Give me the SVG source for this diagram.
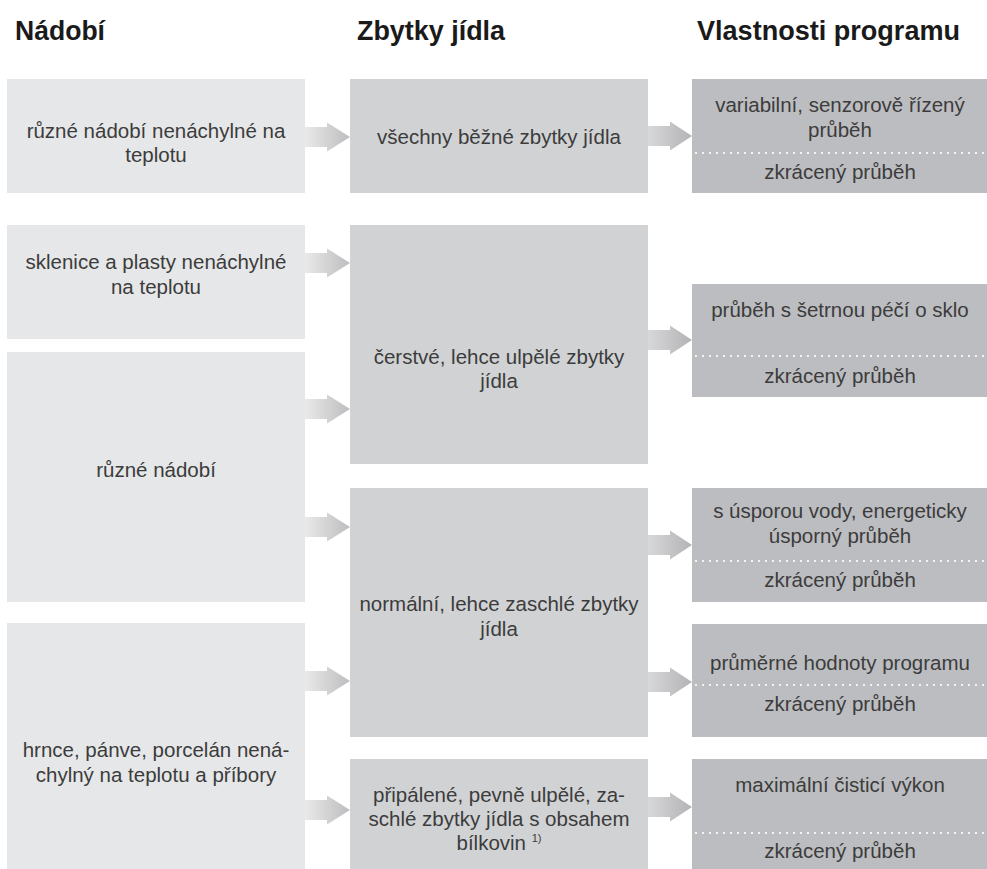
<svg xmlns="http://www.w3.org/2000/svg" width="987" height="869" viewBox="0 0 987 869">
<defs>
<style>
.hd{font-family:"Liberation Sans",Arial,sans-serif;font-weight:bold;font-size:28px;fill:#1a1a1a}
.t{font-family:"Liberation Sans",Arial,sans-serif;font-size:20.5px;fill:#3c3c3c;text-anchor:middle}
.c1{fill:#e6e7e8}
.c2{fill:#d1d2d4}
.c3{fill:#bcbdc0}
.dot{stroke:#ffffff;stroke-width:2.2;stroke-linecap:round;stroke-dasharray:0 7;fill:none}
.a1{fill:url(#g1)}
.a2{fill:url(#g2)}
</style>
<linearGradient id="g1" x1="0" y1="0" x2="1" y2="0">
<stop offset="0" stop-color="#e9e9ea"/>
<stop offset="1" stop-color="#bdbdbf"/>
</linearGradient>
<linearGradient id="g2" x1="0" y1="0" x2="1" y2="0">
<stop offset="0" stop-color="#d8d8da"/>
<stop offset="1" stop-color="#b3b3b5"/>
</linearGradient>
</defs>
<rect width="987" height="869" fill="#ffffff"/>

<g id="headers">
<text class="hd" x="15" y="40" textLength="90" lengthAdjust="spacingAndGlyphs">Nádobí</text>
<text class="hd" x="357" y="40" textLength="148" lengthAdjust="spacingAndGlyphs">Zbytky jídla</text>
<text class="hd" x="697" y="40" textLength="263" lengthAdjust="spacingAndGlyphs">Vlastnosti programu</text>
</g>

<g id="n1a"><rect class="c1" x="7" y="79" width="298" height="114"/>
<text class="t" x="156" y="138">různé nádobí nenáchylné na</text>
<text class="t" x="156" y="162">teplotu</text></g>
<g id="n1b"><rect class="c1" x="7" y="225" width="298" height="114"/>
<text class="t" x="156" y="269">sklenice a plasty nenáchylné</text>
<text class="t" x="156" y="294">na teplotu</text></g>
<g id="n1c"><rect class="c1" x="7" y="352" width="298" height="250"/>
<text class="t" x="156" y="477">různé nádobí</text></g>
<g id="n1d"><rect class="c1" x="7" y="623" width="298" height="246"/>
<text class="t" x="156" y="757">hrnce, pánve, porcelán nená-</text>
<text class="t" x="156" y="782">chylný na teplotu a příbory</text></g>

<g id="n2a"><rect class="c2" x="350" y="79" width="298" height="114"/>
<text class="t" x="499" y="144">všechny běžné zbytky jídla</text></g>
<g id="n2b"><rect class="c2" x="350" y="225" width="298" height="239"/>
<text class="t" x="499" y="364">čerstvé, lehce ulpělé zbytky</text>
<text class="t" x="499" y="388">jídla</text></g>
<g id="n2c"><rect class="c2" x="350" y="488" width="298" height="249"/>
<text class="t" x="499" y="611">normální, lehce zaschlé zbytky</text>
<text class="t" x="499" y="636">jídla</text></g>
<g id="n2d"><rect class="c2" x="350" y="759" width="298" height="110"/>
<text class="t" x="499" y="802">připálené, pevně ulpělé, za-</text>
<text class="t" x="499" y="826">schlé zbytky jídla s obsahem</text>
<text class="t" x="499" y="850">bílkovin <tspan font-size="11" dy="-8">1)</tspan></text></g>

<g id="n3a"><rect class="c3" x="692" y="79" width="295" height="114"/>
<text class="t" x="840" y="112">variabilní, senzorově řízený</text>
<text class="t" x="840" y="137">průběh</text>
<line class="dot" x1="696" y1="153" x2="985" y2="153"/>
<text class="t" x="840" y="179">zkrácený průběh</text></g>
<g id="n3b"><rect class="c3" x="692" y="284" width="295" height="113"/>
<text class="t" x="840" y="317">průběh s šetrnou péčí o sklo</text>
<line class="dot" x1="696" y1="356" x2="985" y2="356"/>
<text class="t" x="840" y="383">zkrácený průběh</text></g>
<g id="n3c"><rect class="c3" x="692" y="488" width="295" height="114"/>
<text class="t" x="840" y="518">s úsporou vody, energeticky</text>
<text class="t" x="840" y="543">úsporný průběh</text>
<line class="dot" x1="696" y1="561" x2="985" y2="561"/>
<text class="t" x="840" y="587">zkrácený průběh</text></g>
<g id="n3d"><rect class="c3" x="692" y="624" width="295" height="113"/>
<text class="t" x="840" y="670">průměrné hodnoty programu</text>
<line class="dot" x1="696" y1="685" x2="985" y2="685"/>
<text class="t" x="840" y="711">zkrácený průběh</text></g>
<g id="n3e"><rect class="c3" x="692" y="759" width="295" height="110"/>
<text class="t" x="840" y="792">maximální čisticí výkon</text>
<line class="dot" x1="696" y1="833" x2="985" y2="833"/>
<text class="t" x="840" y="858">zkrácený průběh</text></g>

<g id="connectors">
<path class="a1" d="M305,127 L327,127 L327,122.5 L350,137 L327,151.5 L327,147 L305,147 Z"/>
<path class="a1" d="M305,253 L327,253 L327,248.5 L350,263 L327,277.5 L327,273 L305,273 Z"/>
<path class="a1" d="M305,399 L327,399 L327,394.5 L350,409 L327,423.5 L327,419 L305,419 Z"/>
<path class="a1" d="M305,517 L327,517 L327,512.5 L350,527 L327,541.5 L327,537 L305,537 Z"/>
<path class="a1" d="M305,671 L327,671 L327,666.5 L350,681 L327,695.5 L327,691 L305,691 Z"/>
<path class="a1" d="M305,800 L327,800 L327,795.5 L350,810 L327,824.5 L327,820 L305,820 Z"/>
<path class="a2" d="M648,126 L670,126 L670,121.5 L692,136 L670,150.5 L670,146 L648,146 Z"/>
<path class="a2" d="M648,330 L670,330 L670,325.5 L692,340 L670,354.5 L670,350 L648,350 Z"/>
<path class="a2" d="M648,535 L670,535 L670,530.5 L692,545 L670,559.5 L670,555 L648,555 Z"/>
<path class="a2" d="M648,672 L670,672 L670,667.5 L692,682 L670,696.5 L670,692 L648,692 Z"/>
<path class="a2" d="M648,797 L670,797 L670,792.5 L692,807 L670,821.5 L670,817 L648,817 Z"/>
</g>
</svg>
